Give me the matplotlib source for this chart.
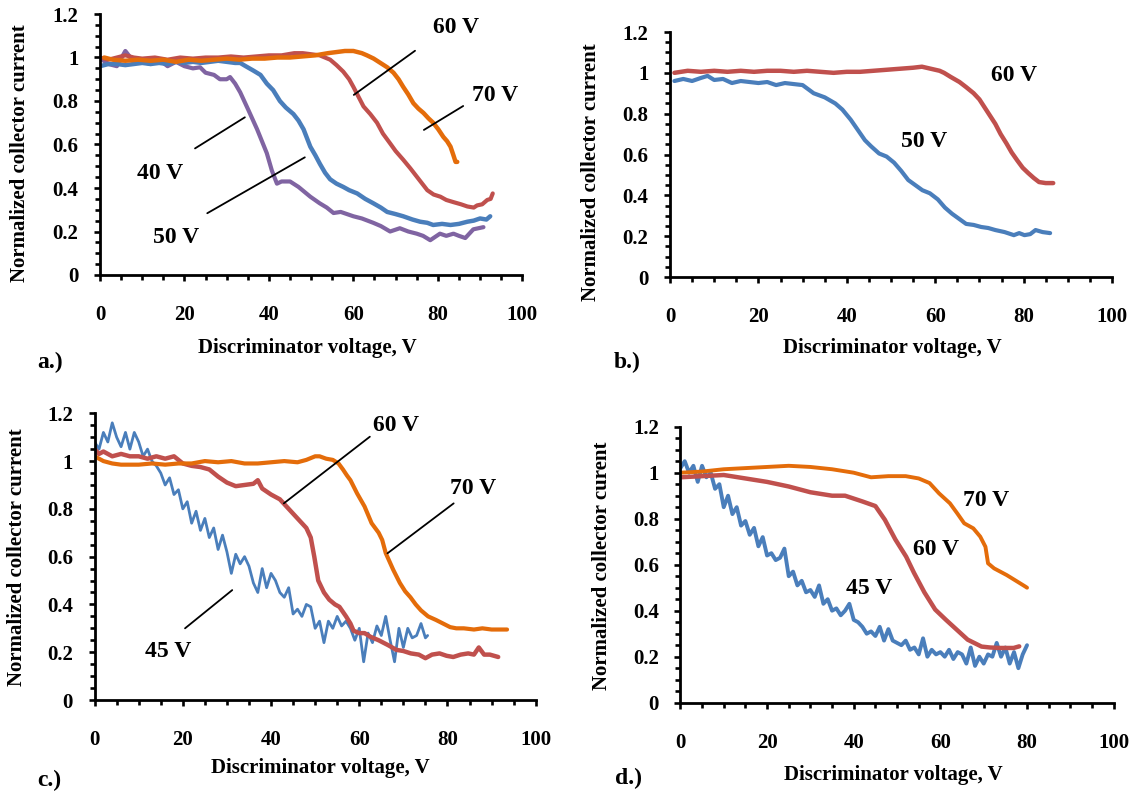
import matplotlib
matplotlib.use("Agg")
import matplotlib.pyplot as plt
from matplotlib.ticker import MultipleLocator, FuncFormatter

plt.rcParams['font.family'] = ['Liberation Serif', 'DejaVu Serif']
plt.rcParams['font.weight'] = 'bold'
plt.rcParams['lines.solid_joinstyle'] = 'round'
plt.rcParams['lines.solid_capstyle'] = 'round'

BLUE = '#4a7ebb'
RED = '#c0504d'
ORANGE = '#e46c0a'
PURPLE = '#8064a2'

# ---- panel a ----
a40_x = [0.5, 2, 4, 6, 8, 10, 12, 14, 16, 18, 20, 22, 23.7, 25, 27, 28.4, 30, 30.8, 32, 33.2,
         35.1, 37.2, 39.5, 40.7, 41.9, 43, 45, 47, 49.8, 52, 53.7, 55.3, 57, 60, 62, 64.7, 66.5,
         68.7, 71, 73, 75, 76.5, 78.2, 80.5, 82, 83.7, 85, 86.5, 88.4, 90.8]
a40_y = [0.99, 0.97, 0.96, 1.03, 0.98, 0.98, 0.97, 0.99, 0.96, 0.98, 0.96, 0.95, 0.955, 0.93,
         0.92, 0.90, 0.90, 0.91, 0.88, 0.84, 0.76, 0.67, 0.56, 0.48, 0.42, 0.43, 0.43, 0.405,
         0.36, 0.33, 0.31, 0.285, 0.29, 0.27, 0.26, 0.24, 0.225, 0.20, 0.215, 0.20, 0.19, 0.18,
         0.16, 0.19, 0.18, 0.19, 0.18, 0.17, 0.21, 0.22]
a50_x = [0, 2, 4, 6, 8, 10, 12, 14, 16, 18, 20, 22, 24, 26, 28, 30, 32, 33.2, 34.5, 36.3, 38,
         39.5, 41, 42.6, 44, 45.8, 47, 48.2, 49.8, 51, 52.1, 53.3, 54.5, 56, 57.6, 59, 60.9,
         62.8, 64.7, 66.5, 68, 70, 71.8, 74, 75.8, 77.5, 78.9, 81, 83, 85, 87, 88.5, 90, 91.5,
         92.4]
a50_y = [0.96, 0.97, 0.97, 0.965, 0.97, 0.975, 0.97, 0.975, 0.97, 0.98, 0.975, 0.98, 0.975,
         0.98, 0.985, 0.98, 0.975, 0.975, 0.96, 0.94, 0.92, 0.88, 0.85, 0.80, 0.77, 0.74, 0.71,
         0.67, 0.59, 0.55, 0.51, 0.47, 0.44, 0.42, 0.405, 0.39, 0.375, 0.35, 0.33, 0.31, 0.29,
         0.28, 0.27, 0.255, 0.245, 0.24, 0.23, 0.235, 0.23, 0.235, 0.245, 0.25, 0.26, 0.255,
         0.27]
a60_x = [0, 2, 4, 6, 8, 10, 13, 16, 19, 22, 25, 28, 31, 34, 37, 40, 43, 46, 48, 50, 52, 54.5,
         56, 57.6, 59, 60, 61.2, 62.4, 64, 65.6, 67, 68.7, 70, 71.8, 73.5, 75.1, 76.3, 77.5, 79,
         80.6, 82, 83.7, 85.5, 87, 88.5, 89.3, 90.5, 91.7, 92.5, 93]
a60_y = [1.0, 0.99, 1.0, 1.01, 1.0, 0.995, 1.0, 0.99, 1.0, 0.995, 1.0, 1.0, 1.005, 1.0, 1.005,
         1.01, 1.01, 1.02, 1.02, 1.015, 1.01, 0.99, 0.965, 0.935, 0.90, 0.865, 0.82, 0.775,
         0.74, 0.70, 0.65, 0.605, 0.57, 0.53, 0.49, 0.45, 0.42, 0.39, 0.37, 0.36, 0.345, 0.335,
         0.325, 0.315, 0.31, 0.32, 0.325, 0.345, 0.35, 0.375]
a70_x = [1, 3, 6, 9, 12, 15, 18, 21, 24, 27, 30, 33, 36, 39, 42, 45, 48, 51, 54, 56, 58, 60,
         62, 63.2, 64.8, 66.4, 68, 69.5, 70.7, 71.8, 73, 74.2, 75.4, 76.6, 77.8, 78.9, 80.1,
         81.3, 82.2, 83, 83.7, 84.2, 84.6]
a70_y = [1.0, 0.99, 0.985, 0.99, 0.985, 0.99, 0.98, 0.99, 0.985, 0.99, 0.995, 0.99, 0.995,
         0.995, 1.0, 1.0, 1.005, 1.01, 1.02, 1.025, 1.03, 1.03, 1.02, 1.01, 0.995, 0.975,
         0.955, 0.93, 0.9, 0.865, 0.83, 0.79, 0.765, 0.745, 0.72, 0.70, 0.67, 0.635, 0.615,
         0.59, 0.55, 0.52, 0.52]

# ---- panel b ----
b50_x = [1, 3, 5, 7, 8.5, 10, 12, 14, 16, 18, 20, 22, 24, 26, 28, 30, 32.5, 35, 37.4, 39,
         40.9, 42.5, 44.1, 45.5, 47.3, 49, 50.7, 52.3, 53.9, 55.5, 57.1, 58.8, 60.6, 62.2,
         63.8, 65.4, 67, 68.7, 70.4, 72, 73.6, 75.7, 77.8, 79, 80.2, 81.5, 82.7, 84.3, 86]
b50_y = [0.96, 0.97, 0.96, 0.975, 0.985, 0.965, 0.97, 0.95, 0.96, 0.955, 0.95, 0.955, 0.94,
         0.95, 0.945, 0.94, 0.90, 0.88, 0.85, 0.82, 0.77, 0.72, 0.67, 0.64, 0.605, 0.59, 0.56,
         0.52, 0.475, 0.45, 0.425, 0.41, 0.38, 0.34, 0.31, 0.285, 0.26, 0.255, 0.245, 0.24,
         0.23, 0.22, 0.205, 0.215, 0.205, 0.21, 0.23, 0.22, 0.215]
b60_x = [1, 4, 7, 10, 13, 16, 19, 22, 25, 28, 31, 34, 37, 40, 43, 46, 49, 52, 55, 57, 59, 61,
         62, 63.5, 65.5, 67, 68.7, 70, 71.2, 72.4, 73.6, 74.8, 76.1, 77.3, 78.6, 79.8, 81,
         82.3, 83.5, 85, 86.7]
b60_y = [1.0, 1.01, 1.005, 1.01, 1.005, 1.01, 1.005, 1.01, 1.01, 1.005, 1.01, 1.005, 1.0,
         1.005, 1.005, 1.01, 1.015, 1.02, 1.025, 1.03, 1.02, 1.01, 1.0, 0.98, 0.955, 0.93,
         0.90, 0.87, 0.83, 0.79, 0.75, 0.70, 0.655, 0.61, 0.57, 0.535, 0.51, 0.485, 0.465,
         0.46, 0.46]

# ---- panel c ----
c45_x = [0, 1, 2, 3, 4, 5, 6, 7, 8, 9, 10, 11, 12, 13, 14, 15, 16, 17, 18, 19, 20, 21, 22,
         23, 24, 25, 26, 27, 28, 29, 30, 31, 32, 33, 34, 35, 36, 37, 38, 39, 40, 41, 42, 43,
         44, 45, 46, 47, 48, 49, 50, 51, 52, 53, 54, 55, 56, 57, 58, 59, 60, 61, 62, 63, 64,
         65, 66, 67, 68, 69, 70, 71, 72, 73, 74, 75, 75.5]
c45_y = [1.08, 1.05, 1.12, 1.08, 1.16, 1.10, 1.06, 1.12, 1.05, 1.12, 1.08, 1.02, 1.05, 1.0,
         0.98, 0.95, 0.90, 0.93, 0.86, 0.88, 0.80, 0.83, 0.74, 0.79, 0.71, 0.76, 0.68, 0.72,
         0.63, 0.69, 0.62, 0.53, 0.61, 0.57, 0.60, 0.56, 0.49, 0.45, 0.55, 0.47, 0.53, 0.50,
         0.45, 0.43, 0.47, 0.36, 0.38, 0.35, 0.40, 0.39, 0.30, 0.33, 0.24, 0.33, 0.30, 0.35,
         0.31, 0.33, 0.30, 0.25, 0.30, 0.16, 0.28, 0.24, 0.31, 0.27, 0.35, 0.25, 0.16, 0.30,
         0.22, 0.30, 0.26, 0.27, 0.32, 0.26, 0.27]
c60_x = [0, 1, 2, 4, 6, 8, 10, 12, 14, 16, 18, 20, 22, 24, 26, 28, 30, 32, 34, 36, 37, 38, 40,
         42, 43, 45, 47, 48, 49, 49.8, 50.7, 52, 53.2, 54.5, 55.5, 57, 58, 58.7, 60, 61.2, 62.5,
         64.4, 66.5, 68.4, 70, 71.7, 73.5, 75, 76.5, 78.2, 79.8, 81.3, 83, 84.7, 86, 87.1, 88.3,
         89.6, 91.5]
c60_y = [1.05, 1.03, 1.04, 1.02, 1.03, 1.02, 1.02, 1.01, 1.02, 1.01, 1.02, 0.99, 0.98, 0.975,
         0.965, 0.935, 0.91, 0.895, 0.90, 0.905, 0.92, 0.885, 0.86, 0.84, 0.82, 0.78, 0.74,
         0.72, 0.68, 0.60, 0.50, 0.45, 0.42, 0.40, 0.39, 0.35, 0.32, 0.29, 0.28, 0.28, 0.265,
         0.25, 0.23, 0.21, 0.205, 0.195, 0.19, 0.175, 0.19, 0.195, 0.185, 0.18, 0.19, 0.195,
         0.19, 0.22, 0.19, 0.19, 0.18]
c70_x = [0, 1, 2, 4, 6, 8, 10, 13, 16, 19, 22, 25, 28, 31, 34, 37, 40, 43, 46, 48, 50, 51,
         52.5, 54, 55.3, 56.3, 57.2, 58, 59.5, 61.2, 62.8, 64.4, 65.2, 66, 67.7, 69.2, 70.4,
         71.6, 72.8, 74, 75.6, 77.4, 79, 80.6, 82, 83.7, 86, 87.9, 90, 92, 93.5]
c70_y = [1.02, 1.01, 1.0, 0.99, 0.985, 0.985, 0.985, 0.99, 0.985, 0.99, 0.99, 1.0, 0.995, 1.0,
         0.99, 0.99, 0.995, 1.0, 0.995, 1.005, 1.02, 1.02, 1.01, 1.005, 0.99, 0.965, 0.94,
         0.92, 0.865, 0.81, 0.74, 0.70, 0.67, 0.615, 0.545, 0.49, 0.455, 0.43, 0.40, 0.375,
         0.35, 0.335, 0.32, 0.305, 0.30, 0.30, 0.295, 0.30, 0.295, 0.295, 0.295]

# ---- panel d ----
d45_x = list(range(0, 81))
d45_y = [1.02, 1.05, 1.0, 1.03, 0.96, 1.03, 0.98, 1.0, 0.93, 0.95, 0.85, 0.90, 0.82, 0.85,
         0.77, 0.79, 0.73, 0.76, 0.68, 0.72, 0.64, 0.65, 0.62, 0.63, 0.67, 0.55, 0.57, 0.51,
         0.53, 0.48, 0.49, 0.46, 0.51, 0.43, 0.45, 0.40, 0.41, 0.38, 0.40, 0.43, 0.36, 0.35,
         0.33, 0.30, 0.31, 0.29, 0.33, 0.27, 0.32, 0.27, 0.26, 0.25, 0.27, 0.23, 0.24, 0.21,
         0.28, 0.20, 0.23, 0.21, 0.22, 0.20, 0.23, 0.19, 0.22, 0.21, 0.17, 0.24, 0.16, 0.20,
         0.17, 0.21, 0.20, 0.26, 0.20, 0.24, 0.17, 0.22, 0.15, 0.21, 0.25]
d60_x = [0, 5, 10, 15, 20, 25, 30, 35, 38, 42, 45, 47.2, 49.6, 52.1, 53.9, 56.3, 58.8, 61.3,
         63.8, 66.3, 69.5, 71.5, 73.7, 76.9, 78.2]
d60_y = [0.98, 0.985, 0.99, 0.975, 0.96, 0.94, 0.915, 0.90, 0.90, 0.875, 0.855, 0.795, 0.71,
         0.635, 0.565, 0.48, 0.405, 0.36, 0.317, 0.274, 0.244, 0.24, 0.238, 0.238, 0.245]
d70_x = [0, 5, 10, 15, 20, 25, 30, 35, 40, 44, 48, 52, 55, 57.5, 59.7, 62.2, 63.9, 65.5,
         67.6, 69.2, 70.4, 71, 72.4, 75.3, 77.8, 79.6, 80]
d70_y = [1.0, 1.005, 1.015, 1.02, 1.025, 1.03, 1.025, 1.015, 1.0, 0.98, 0.985, 0.985, 0.975,
         0.955, 0.91, 0.867, 0.823, 0.78, 0.758, 0.722, 0.678, 0.606, 0.584, 0.555, 0.526,
         0.505, 0.50]

# curve labels: (text, x, y) and leader lines ((x1, y1), (x2, y2))
a_labels = [('60 V', 84.4, 1.136), ('70 V', 93.5, 0.823), ('40 V', 14.2, 0.468), ('50 V', 18.0, 0.171)]
a_leaders = [((74.6, 1.031), (60.1, 0.828)), ((86.0, 0.777), (76.7, 0.667)),
             ((22.5, 0.582), (34.3, 0.725)), ((25.4, 0.284), (48.5, 0.541))]
b_labels = [('60 V', 77.8, 0.989), ('50 V', 57.5, 0.663)]
c_labels = [('60 V', 68.4, 1.151), ('70 V', 85.9, 0.886), ('45 V', 16.6, 0.202)]
c_leaders = [((62.4, 1.102), (42.9, 0.823)), ((81.4, 0.823), (66.4, 0.614)),
             ((20.5, 0.30), (31.2, 0.46))]
d_labels = [('70 V', 70.6, 0.881), ('60 V', 58.9, 0.664), ('45 V', 43.6, 0.497)]

W, H = 1132, 793
fig = plt.figure(figsize=(W / 100, H / 100), dpi=100)


def px_axes(left, top, right, bottom):
    return fig.add_axes([left / W, 1 - bottom / H, (right - left) / W, (bottom - top) / H])


def fmt(v, pos):
    return '{:g}'.format(round(v, 2))


def style(ax):
    ax.set_xlim(0, 100)
    ax.set_ylim(0, 1.2)
    for s in ['top', 'right']:
        ax.spines[s].set_visible(False)
    for s in ['left', 'bottom']:
        ax.spines[s].set_linewidth(2.0)
    ax.xaxis.set_major_locator(MultipleLocator(20))
    ax.xaxis.set_minor_locator(MultipleLocator(5))
    ax.yaxis.set_major_locator(MultipleLocator(0.2))
    ax.yaxis.set_minor_locator(MultipleLocator(0.05))
    ax.xaxis.set_major_formatter(FuncFormatter(fmt))
    ax.yaxis.set_major_formatter(FuncFormatter(fmt))
    ax.tick_params(which='both', direction='out', width=1.9, labelsize=15)
    ax.tick_params(which='major', length=4.5)
    ax.tick_params(which='minor', length=3.5)
    ax.tick_params(axis='x', which='major', pad=17)
    ax.tick_params(axis='y', which='major', pad=11)
    for lab in ax.get_xticklabels() + ax.get_yticklabels():
        lab.set_fontweight('bold')


def put_labels(ax, labels, leaders=()):
    for txt, x, y in labels:
        ax.text(x, y, txt, fontsize=17, fontweight='bold', ha='center', va='center')
    for (x1, y1), (x2, y2) in leaders:
        ax.plot([x1, x2], [y1, y2], color='black', lw=1.3)


def fig_text(x, y, s, **kw):
    fig.text(x / W, 1 - y / H, s, ha='center', va='center', fontweight='bold', **kw)


# a
ax = px_axes(100, 14, 522.3, 275)
style(ax)
ax.plot(a40_x, a40_y, color=PURPLE, lw=3.0)
ax.plot(a50_x, a50_y, color=BLUE, lw=3.2)
ax.plot(a60_x, a60_y, color=RED, lw=3.0)
ax.plot(a70_x, a70_y, color=ORANGE, lw=3.2)
put_labels(ax, a_labels, a_leaders)

# b
ax = px_axes(670, 32, 1112, 277)
style(ax)
ax.plot(b50_x, b50_y, color=BLUE, lw=3.0)
ax.plot(b60_x, b60_y, color=RED, lw=3.2)
put_labels(ax, b_labels)

# c
ax = px_axes(94.6, 413.3, 535.7, 700)
style(ax)
ax.plot(c45_x, c45_y, color=BLUE, lw=2.0)
ax.plot(c60_x, c60_y, color=RED, lw=3.2)
ax.plot(c70_x, c70_y, color=ORANGE, lw=3.0)
put_labels(ax, c_labels, c_leaders)

# d
ax = px_axes(680.4, 426.7, 1113.7, 702.7)
style(ax)
ax.plot(d45_x, d45_y, color=BLUE, lw=2.8)
ax.plot(d60_x, d60_y, color=RED, lw=3.2)
ax.plot(d70_x, d70_y, color=ORANGE, lw=2.8)
put_labels(ax, d_labels)

# axis titles and panel tags
xt = 'Discriminator voltage, V'
fig_text(307, 348, xt, fontsize=15)
fig_text(892, 348, xt, fontsize=15)
fig_text(320, 768, xt, fontsize=15)
fig_text(893, 775, xt, fontsize=15)
fig_text(20, 153, 'Normalized collector current', fontsize=15, rotation=90)
fig_text(591, 172, 'Normalized collector current', fontsize=15, rotation=90)
fig_text(17.5, 557, 'Normalized collector current', fontsize=15, rotation=90)
fig_text(602, 566, 'Normalized collector curent', fontsize=15, rotation=90)
fig_text(50, 362, 'a.)', fontsize=17)
fig_text(627, 362, 'b.)', fontsize=17)
fig_text(49, 780, 'c.)', fontsize=17)
fig_text(629, 778, 'd.)', fontsize=17)

fig.savefig('out.png', dpi=100)
